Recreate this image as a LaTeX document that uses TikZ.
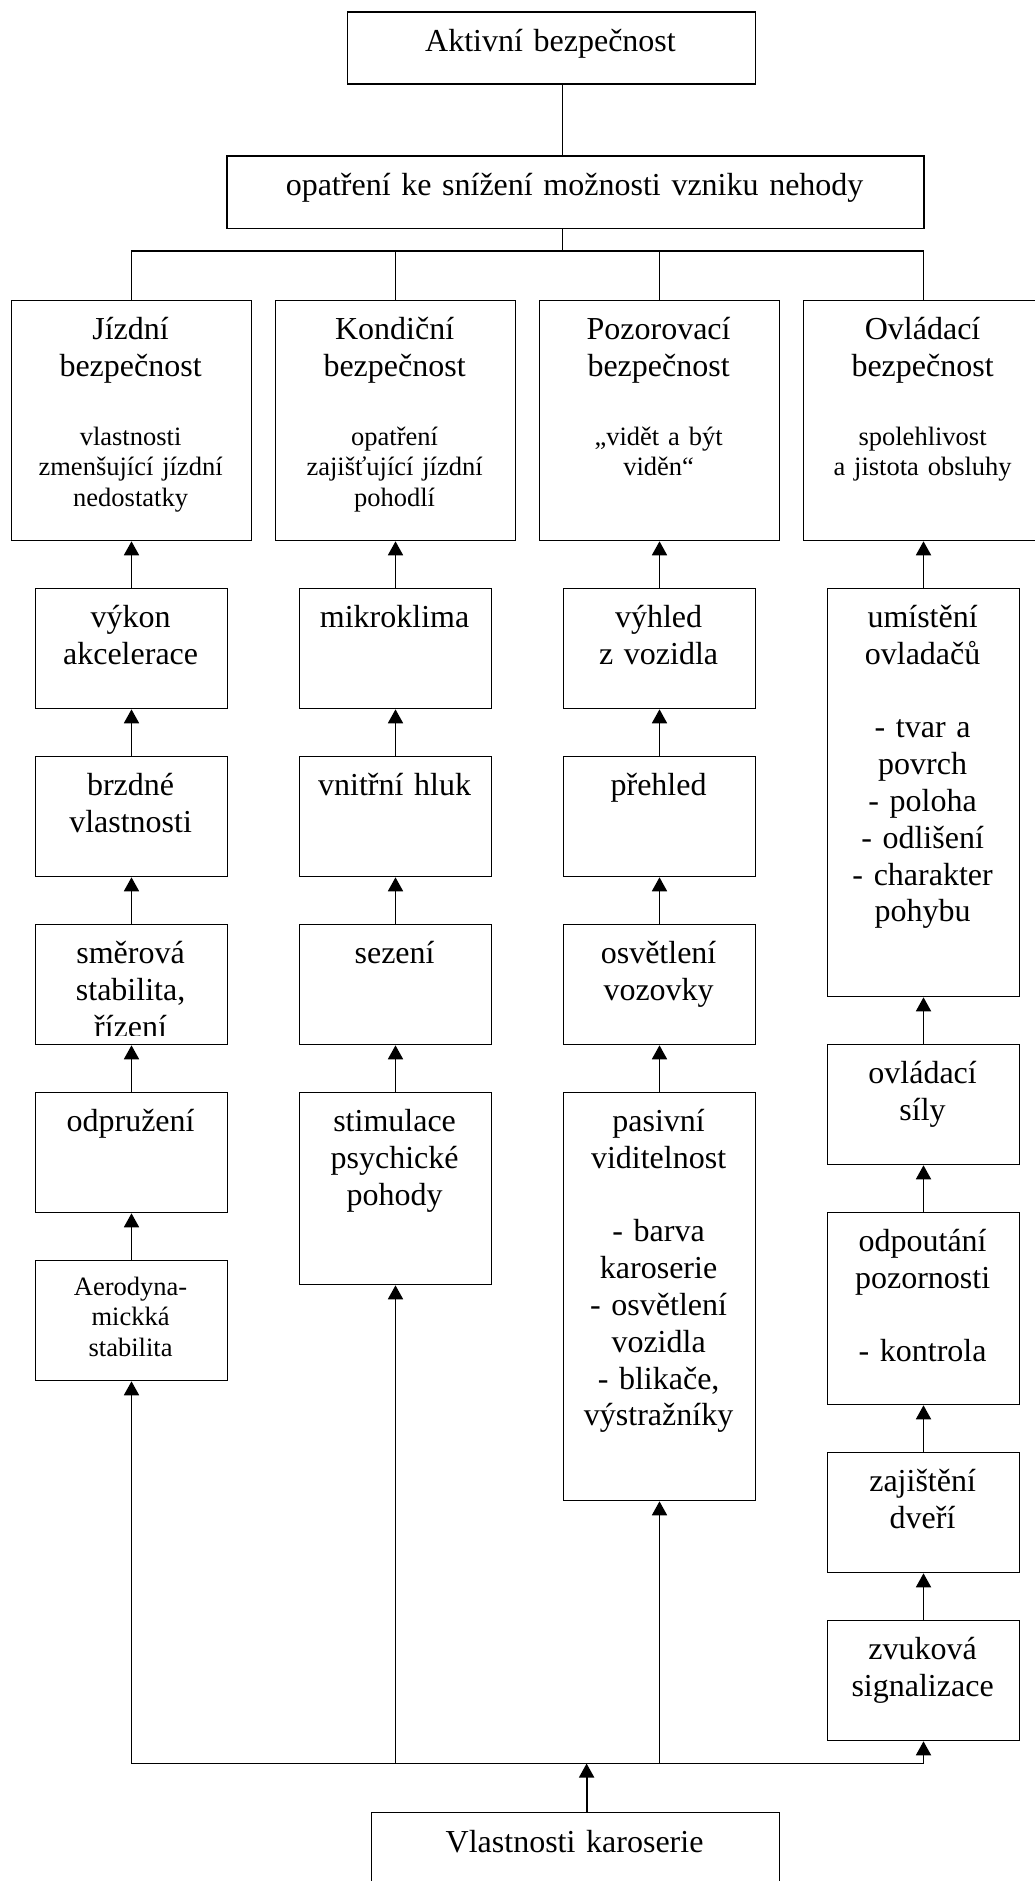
\documentclass[tikz,border=0pt]{standalone}
\usepackage{fontspec}
\setmainfont{Liberation Serif}
\usetikzlibrary{arrows.meta}
\begin{document}
\begin{tikzpicture}[x=1pt,y=-1pt,
  box/.style={draw, line width=1.8pt, inner sep=0pt, anchor=north west},
  big/.style={font=\fontsize{32}{36.8}\selectfont, inner sep=0pt, align=center, text width=#1, anchor=base},
  big/.default=182pt,
  small/.style={font=\fontsize{26.5}{30.6}\selectfont, inner sep=0pt, align=center, text width=#1, anchor=base},
  small/.default=182pt,
  ln/.style={line width=1.8pt},
  arr/.style={line width=1.8pt, -{Triangle[length=14pt,width=15pt]}},
  arr2/.style={line width=1.8pt, {Triangle[length=14pt,width=15pt]}-{Triangle[length=14pt,width=15pt]}}
]
\useasboundingbox (0,0) rectangle (1035,1881);

% top boxes
\node[box, minimum width=408pt, minimum height=72pt] (top) at (346.5,11.5) {};
\node[big=400pt] (topt) at (550.5,52) {Aktivní bezpečnost};
\node[box, minimum width=696.4pt, minimum height=72pt] (mid) at (226.4,155.5) {};
\node[big=690pt] (midt) at (574.6,196) {opatření ke snížení možnosti vzniku nehody};
\coordinate (tb) at (562.4,251);

% categories
\node[box, minimum width=240pt, minimum height=240pt] (c1) at (10.6,299.5) {};
\node[box, minimum width=240pt, minimum height=240pt] (c2) at (274.6,299.5) {};
\node[box, minimum width=240pt, minimum height=240pt] (c3) at (538.6,299.5) {};
\node[box, minimum width=240pt, minimum height=240pt] (c4) at (802.6,299.5) {};
\node[big=230pt] (c1t) at (130.6,339.5) {Jízdní\\bezpečnost};
\node[big=230pt] (c2t) at (394.6,339.5) {Kondiční\\bezpečnost};
\node[big=230pt] (c3t) at (658.6,339.5) {Pozorovací\\bezpečnost};
\node[big=230pt] (c4t) at (922.6,339.5) {Ovládací\\bezpečnost};
\node[small=230pt] (c1s) at (130.6,445) {vlastnosti\\zmenšující jízdní\\nedostatky};
\node[small=230pt] (c2s) at (394.6,445) {opatření\\zajišťující jízdní\\pohodlí};
\node[small=230pt] (c3s) at (658.6,445) {„vidět a být\\viděn“};
\node[small=230pt] (c4s) at (922.6,445) {spolehlivost\\a jistota obsluhy};

% column 1
\node[box, minimum width=192pt, minimum height=120pt] (j1a) at (34.6,587.5) {};
\node[big] (j1at) at (130.6,627.5) {výkon\\akcelerace};
\node[box, minimum width=192pt, minimum height=120pt] (j1b) at (34.6,755.5) {};
\node[big] (j1bt) at (130.6,795.5) {brzdné\\vlastnosti};
\node[box, minimum width=192pt, minimum height=120pt] (j1c) at (34.6,923.5) {};
\begin{scope}
\clip (34.6,923.5) rectangle (226.6,1035);
\node[big] (j1ct) at (130.6,963.5) {směrová\\stabilita,\\řízení};
\end{scope}
\node[box, minimum width=192pt, minimum height=120pt] (j1d) at (34.6,1091.5) {};
\node[big] (j1dt) at (130.6,1131.5) {odpružení};
\node[box, minimum width=192pt, minimum height=120pt] (j1e) at (34.6,1259.5) {};
\node[small] (j1et) at (130.6,1295) {Aerodyna-\\mickká\\stabilita};

% column 2
\node[box, minimum width=192pt, minimum height=120pt] (k2a) at (298.6,587.5) {};
\node[big] (k2at) at (394.6,627.5) {mikroklima};
\node[box, minimum width=192pt, minimum height=120pt] (k2b) at (298.6,755.5) {};
\node[big] (k2bt) at (394.6,795.5) {vnitřní hluk};
\node[box, minimum width=192pt, minimum height=120pt] (k2c) at (298.6,923.5) {};
\node[big] (k2ct) at (394.6,963.5) {sezení};
\node[box, minimum width=192pt, minimum height=192pt] (k2d) at (298.6,1091.5) {};
\node[big] (k2dt) at (394.6,1131.5) {stimulace\\psychické\\pohody};

% column 3
\node[box, minimum width=192pt, minimum height=120pt] (p3a) at (562.6,587.5) {};
\node[big] (p3at) at (658.6,627.5) {výhled\\z vozidla};
\node[box, minimum width=192pt, minimum height=120pt] (p3b) at (562.6,755.5) {};
\node[big] (p3bt) at (658.6,795.5) {přehled};
\node[box, minimum width=192pt, minimum height=120pt] (p3c) at (562.6,923.5) {};
\node[big] (p3ct) at (658.6,963.5) {osvětlení\\vozovky};
\node[box, minimum width=192pt, minimum height=408pt] (p3d) at (562.6,1091.5) {};
\node[big] (p3dt) at (658.6,1131.5) {pasivní\\viditelnost\\[36.8pt]- barva\\karoserie\\- osvětlení\\vozidla\\- blikače,\\výstražníky};

% column 4
\node[box, minimum width=192pt, minimum height=408pt] (o4a) at (826.6,587.5) {};
\node[big] (o4at) at (922.6,627.5) {umístění\\ovladačů\\[36.8pt]- tvar a\\povrch\\- poloha\\- odlišení\\- charakter\\pohybu};
\node[box, minimum width=192pt, minimum height=120pt] (o4b) at (826.6,1043.5) {};
\node[big] (o4bt) at (922.6,1083.5) {ovládací\\síly};
\node[box, minimum width=192pt, minimum height=192pt] (o4c) at (826.6,1211.5) {};
\node[big] (o4ct) at (922.6,1251.5) {odpoutání\\pozornosti\\[36.8pt]- kontrola};
\node[box, minimum width=192pt, minimum height=120pt] (o4d) at (826.6,1451.5) {};
\node[big] (o4dt) at (922.6,1491.5) {zajištění\\dveří};
\node[box, minimum width=192pt, minimum height=120pt] (o4e) at (826.6,1619.5) {};
\node[big] (o4et) at (922.6,1659.5) {zvuková\\signalizace};

% bottom box
\node[box, minimum width=408pt, minimum height=72pt] (bot) at (370.6,1811.5) {};
\node[big=400pt] (bott) at (574.6,1852) {Vlastnosti karoserie};

% connectors top
\draw[ln] (top.south -| tb) -- (mid.north -| tb);
\draw[ln] (mid.south -| tb) -- (tb);
\draw[ln] (c1.north) -- (c1.north |- tb) -- (c4.north |- tb) -- (c4.north);
\draw[ln] (c2.north) -- (c2.north |- tb);
\draw[ln] (c3.north) -- (c3.north |- tb);

% column arrows
\draw[arr] (j1a.north) -- (c1.south);
\draw[arr] (j1b.north) -- (j1a.south);
\draw[arr] (j1c.north) -- (j1b.south);
\draw[arr] (j1d.north) -- (j1c.south);
\draw[arr] (j1e.north) -- (j1d.south);
\draw[arr] (k2a.north) -- (c2.south);
\draw[arr] (k2b.north) -- (k2a.south);
\draw[arr] (k2c.north) -- (k2b.south);
\draw[arr] (k2d.north) -- (k2c.south);
\draw[arr] (p3a.north) -- (c3.south);
\draw[arr] (p3b.north) -- (p3a.south);
\draw[arr] (p3c.north) -- (p3b.south);
\draw[arr] (p3d.north) -- (p3c.south);
\draw[arr] (o4a.north) -- (c4.south);
\draw[arr] (o4b.north) -- (o4a.south);
\draw[arr] (o4c.north) -- (o4b.south);
\draw[arr] (o4d.north) -- (o4c.south);
\draw[arr] (o4e.north) -- (o4d.south);

% bottom bus
\coordinate (bus) at (586.6,1763.5);
\draw[arr2] (j1e.south) -- (j1e.south |- bus) -- (o4e.south |- bus) -- (o4e.south);
\draw[arr] (k2d.south |- bus) -- (k2d.south);
\draw[arr] (p3d.south |- bus) -- (p3d.south);
\draw[arr] (bot.north -| bus) -- (bus);
\end{tikzpicture}
\end{document}
